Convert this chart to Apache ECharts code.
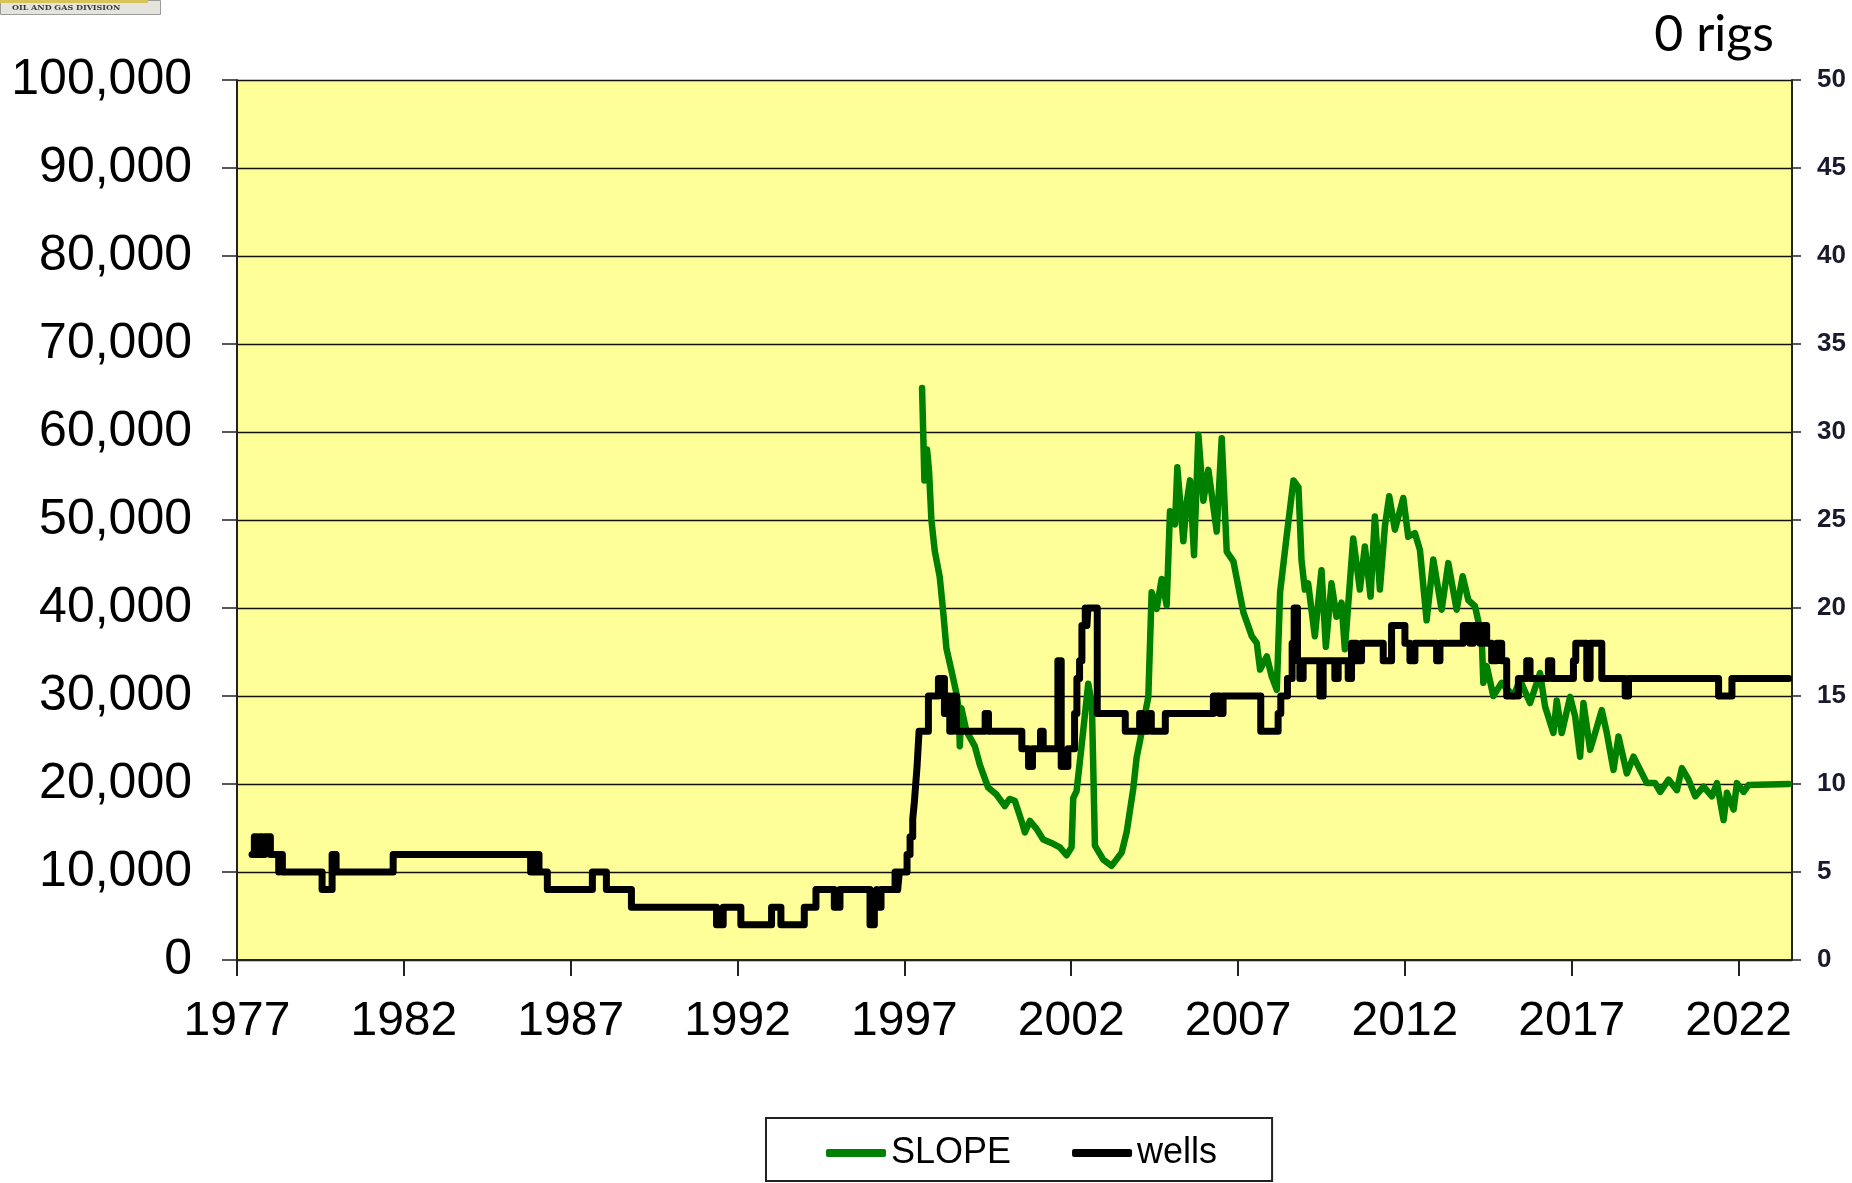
<!DOCTYPE html>
<html>
<head>
<meta charset="utf-8">
<script src="https://cdn.jsdelivr.net/npm/echarts@6/dist/echarts.min.js"></script>
<style>
  html, body { margin: 0; padding: 0; background: #ffffff; }
  #chart { width: 1852px; height: 1183px; }
</style>
</head>
<body>
<div id="chart"></div>
<script>
// x-axis labels (years)
const xTickYears = [1977, 1982, 1987, 1992, 1997, 2002, 2007, 2012, 2017, 2022];

// SLOPE production (left axis)
const slopeYears = [
  1997.53, 1997.60, 1997.68, 1997.74, 1997.81, 1997.91, 1998.06, 1998.16, 1998.26, 1998.41,
  1998.56, 1998.63, 1998.66, 1998.71, 1998.86, 1999.11, 1999.26, 1999.51, 1999.76, 2000.01,
  2000.15, 2000.31, 2000.51, 2000.61, 2000.76, 2000.96, 2001.16, 2001.46, 2001.66, 2001.86,
  2002.01, 2002.06, 2002.16, 2002.31, 2002.51, 2002.62, 2002.71, 2002.96, 2003.21, 2003.51,
  2003.66, 2003.86, 2003.96, 2004.06, 2004.31, 2004.41, 2004.56, 2004.71, 2004.86, 2004.96,
  2005.11, 2005.18, 2005.36, 2005.46, 2005.56, 2005.68, 2005.81, 2005.96, 2006.11, 2006.36,
  2006.51, 2006.66, 2006.86, 2007.16, 2007.41, 2007.56, 2007.66, 2007.86, 2008.01, 2008.16,
  2008.26, 2008.46, 2008.66, 2008.81, 2008.90, 2009.00, 2009.10, 2009.30, 2009.50, 2009.63,
  2009.80, 2009.95, 2010.10, 2010.20, 2010.45, 2010.65, 2010.80, 2010.97, 2011.10, 2011.25,
  2011.40, 2011.53, 2011.70, 2011.95, 2012.10, 2012.30, 2012.45, 2012.65, 2012.85, 2013.10,
  2013.30, 2013.55, 2013.73, 2013.90, 2014.10, 2014.30, 2014.35, 2014.45, 2014.65, 2014.90,
  2015.25, 2015.45, 2015.75, 2016.05, 2016.20, 2016.45, 2016.55, 2016.70, 2016.95, 2017.10,
  2017.25, 2017.35, 2017.55, 2017.70, 2017.90, 2018.05, 2018.25, 2018.40, 2018.65, 2018.85,
  2019.05, 2019.25, 2019.50, 2019.65, 2019.90, 2020.15, 2020.30, 2020.50, 2020.70, 2020.95,
  2021.20, 2021.35, 2021.55, 2021.65, 2021.85, 2021.95, 2022.15, 2022.30, 2023.50
];
const slopeValues = [
  65000, 54500, 58000, 55500, 50000, 46500, 43500, 39700, 35400, 32900,
  30300, 28500, 24300, 28600, 26000, 24300, 22200, 19600, 18800, 17500,
  18300, 18100, 15800, 14500, 15800, 14900, 13700, 13200, 12800, 11900,
  12800, 18400, 19200, 24300, 31400, 29000, 13000, 11400, 10700, 12200,
  14500, 19500, 23000, 24900, 29900, 41800, 39900, 43300, 40300, 51000,
  49500, 56000, 47600, 52000, 54500, 46000, 59700, 52200, 55700, 48700,
  59300, 46400, 45300, 39500, 36800, 36000, 33000, 34500, 32200, 30700,
  41800, 48300, 54500, 53700, 45500, 42100, 42800, 36800, 44300, 35600,
  42800, 39000, 40600, 35300, 47900, 42100, 47000, 41300, 50400, 42100,
  49300, 52700, 48900, 52500, 48100, 48500, 46600, 38600, 45500, 39800,
  45100, 39800, 43600, 40900, 40200, 36800, 31500, 33400, 30000, 31500,
  30000, 31800, 29200, 32600, 28800, 25800, 29500, 25800, 29900, 27700,
  23100, 29200, 23900, 25800, 28400, 25800, 21600, 25400, 21200, 23100,
  21600, 20100, 20100, 19100, 20500, 19300, 21800, 20500, 18600, 19700,
  18600, 20100, 15900, 19000, 17100, 20100, 19100, 19900, 20000
];

// wells count (right axis); each entry holds until the next year listed
const wellsYears = [
  1977.45, 1977.52, 1977.60, 1977.67, 1977.76, 1977.83, 1978.00, 1978.25, 1978.30, 1978.36,
  1979.55, 1979.85, 1979.97, 1981.68, 1985.80, 1985.86, 1985.92, 1985.98, 1986.05, 1986.30,
  1987.65, 1988.07, 1988.82, 1991.37, 1991.57, 1992.10, 1993.02, 1993.30, 1994.00, 1994.35,
  1994.90, 1995.07, 1995.97, 1996.10, 1996.17, 1996.22, 1996.30, 1996.72, 1996.80, 1996.85,
  1997.08, 1997.17, 1997.25, 1997.30, 1997.34, 1997.38, 1997.41, 1997.44, 1997.72, 1998.02,
  1998.20, 1998.28, 1998.36, 1998.46, 1998.56, 1999.42, 1999.52, 2000.52, 2000.72, 2000.84,
  2001.08, 2001.16, 2001.60, 2001.70, 2001.90, 2002.10, 2002.17, 2002.25, 2002.32, 2002.42,
  2002.47, 2002.50, 2002.78, 2003.62, 2004.05, 2004.13, 2004.30, 2004.40, 2004.82, 2006.26,
  2006.45, 2006.55, 2007.68, 2008.20, 2008.28, 2008.48, 2008.62, 2008.68, 2008.78, 2008.85,
  2008.95, 2009.45, 2009.55, 2009.90, 2010.00, 2010.30, 2010.40, 2010.55, 2010.70, 2011.35,
  2011.60, 2012.00, 2012.15, 2012.30, 2012.95, 2013.05, 2013.75, 2013.95, 2014.05, 2014.25,
  2014.35, 2014.45, 2014.60, 2014.75, 2014.90, 2015.05, 2015.40, 2015.65, 2015.75, 2016.30,
  2016.40, 2017.05, 2017.12, 2017.45, 2017.55, 2017.90, 2018.60, 2018.70, 2021.40, 2021.80,
  2023.50
];
const wellsCounts = [
  6, 7, 6, 7, 6, 7, 6, 5, 6, 5,
  4, 6, 5, 6, 5, 6, 5, 6, 5, 4,
  5, 4, 3, 2, 3, 2, 3, 2, 3, 4,
  3, 4, 2, 3, 4, 3, 4, 5, 4, 5,
  6, 7, 8, 9, 10, 11, 12, 13, 15, 16,
  14, 15, 13, 15, 13, 14, 13, 12, 11, 12,
  13, 12, 17, 11, 12, 14, 16, 17, 19, 20,
  19, 20, 14, 13, 14, 13, 14, 13, 14, 15,
  14, 15, 13, 14, 15, 16, 18, 20, 17, 16,
  17, 15, 17, 16, 17, 16, 18, 17, 18, 17,
  19, 18, 17, 18, 17, 18, 19, 18, 19, 18,
  19, 18, 17, 18, 17, 15, 16, 17, 16, 17,
  16, 17, 18, 16, 18, 16, 15, 16, 15, 16,
  16
];

const zip = (xs, ys) => xs.map((x, i) => [x, ys[i]]);

const chart = echarts.init(document.getElementById('chart'), null, { renderer: 'canvas' });

const sans = "'Liberation Sans', Arial, sans-serif";

chart.setOption({
  animation: false,
  backgroundColor: '#ffffff',
  title: {
    text: '0 rigs',
    right: 73,
    top: 5,
    textStyle: { fontFamily: "Lato, 'Open Sans', sans-serif", fontSize: 50, fontWeight: 'normal', color: '#000' }
  },
  graphic: [
    { type: 'rect', left: 0, top: 0, shape: { width: 160, height: 14 }, style: { fill: '#e4e3dc', stroke: '#9b9b9b', lineWidth: 1 } },
    { type: 'rect', left: 0, top: 0, shape: { width: 148, height: 3 }, style: { fill: '#d8c25a' } },
    { type: 'text', left: 12, top: 4, style: { text: 'OIL AND GAS DIVISION', font: 'bold 8px "DejaVu Serif", serif', fill: '#3a3a3a' } }
  ],
  grid: {
    left: 237, right: 60, top: 80, bottom: 223,
    show: true, backgroundColor: '#FFFF99', borderWidth: 0
  },
  legend: {
    data: ['SLOPE', 'wells'],
    left: 766, top: 1118,
    padding: [17, 55, 10, 60],
    itemGap: 61,
    itemWidth: 60, itemHeight: 8,
    icon: 'roundRect',
    borderColor: '#222', borderWidth: 2,
    textStyle: { fontFamily: sans, fontSize: 36, color: '#000' }
  },
  xAxis: {
    type: 'value',
    min: 1977, max: 2023.6,
    axisLine: { show: true, onZero: false, lineStyle: { color: '#222', width: 2 } },
    axisTick: { show: true, length: 16, customValues: xTickYears, lineStyle: { color: '#222', width: 2 } },
    axisLabel: {
      customValues: xTickYears,
      margin: 38,
      fontFamily: sans,
      fontSize: 48, color: '#000',
      formatter: v => String(Math.round(v))
    },
    splitLine: { show: false }
  },
  yAxis: [
    {
      type: 'value', min: 0, max: 100000, interval: 10000, position: 'left',
      axisLine: { show: true, lineStyle: { color: '#222', width: 2 } },
      axisTick: { show: true, length: 15, lineStyle: { color: '#222', width: 1.5 } },
      axisLabel: {
        margin: 45, fontFamily: sans, fontSize: 50, color: '#000',
        formatter: v => v.toLocaleString('en-US')
      },
      splitLine: { show: true, lineStyle: { color: '#111', width: 1.3 } }
    },
    {
      type: 'value', min: 0, max: 50, interval: 5, position: 'right',
      axisLine: { show: true, lineStyle: { color: '#222', width: 2 } },
      axisTick: { show: true, length: 9, lineStyle: { color: '#222', width: 1.5 } },
      axisLabel: { margin: 25, fontFamily: sans, fontSize: 26, fontWeight: 'bold', color: '#1a1a2e' },
      splitLine: { show: false }
    }
  ],
  series: [
    {
      name: 'SLOPE', type: 'line', yAxisIndex: 0,
      data: zip(slopeYears, slopeValues),
      showSymbol: false, symbol: 'none',
      color: '#008000',
      lineStyle: { color: '#008000', width: 6.5, join: 'round', cap: 'round' }
    },
    {
      name: 'wells', type: 'line', yAxisIndex: 1,
      data: zip(wellsYears, wellsCounts),
      step: 'end',
      showSymbol: false, symbol: 'none',
      color: '#000000',
      lineStyle: { color: '#000000', width: 7, join: 'round', cap: 'round' }
    }
  ]
});
</script>
</body>
</html>
